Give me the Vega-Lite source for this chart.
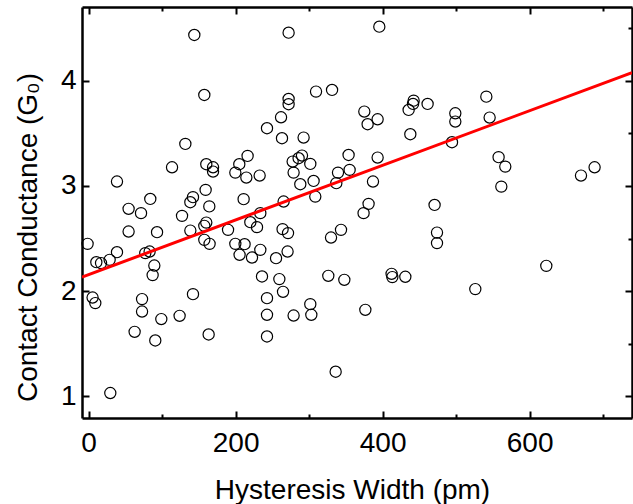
{
  "$schema": "https://vega.github.io/schema/vega-lite/v6.json",
  "width": 550,
  "height": 411,
  "autosize": {"type": "none"},
  "padding": {"left": 82, "top": 7, "right": 1, "bottom": 86},
  "background": "white",
  "config": {
    "view": {"stroke": null},
    "axis": {
      "labelFont": "Liberation Sans",
      "titleFont": "Liberation Sans",
      "labelFontSize": 28,
      "titleFontSize": 28,
      "labelColor": "black",
      "titleColor": "black",
      "titleFontWeight": "normal",
      "domainColor": "black",
      "domainWidth": 2.5,
      "tickColor": "black",
      "tickWidth": 2,
      "grid": false
    }
  },
  "datasets": {
    "pts": [
      {"x": 143.8, "y": 4.435}, {"x": 157.4, "y": 3.865}, {"x": 131.6, "y": 3.400}, {"x": 113.5, "y": 3.178},
      {"x": 160.1, "y": 3.207}, {"x": 169.3, "y": 3.178}, {"x": 169.3, "y": 3.137}, {"x": 38.6, "y": 3.042},
      {"x": 205.0, "y": 3.207}, {"x": 216.3, "y": 3.286}, {"x": 199.6, "y": 3.127}, {"x": 214.6, "y": 3.080},
      {"x": 232.7, "y": 3.099}, {"x": 83.9, "y": 2.877}, {"x": 142.0, "y": 2.894}, {"x": 138.4, "y": 2.846},
      {"x": 159.2, "y": 2.963}, {"x": 210.9, "y": 2.875}, {"x": 242.7, "y": 3.549},
      {"x": 272.1, "y": 4.457}, {"x": 395.5, "y": 4.514}, {"x": 309.4, "y": 3.897}, {"x": 331.2, "y": 3.913},
      {"x": 272.1, "y": 3.827}, {"x": 272.1, "y": 3.777}, {"x": 375.1, "y": 3.707}, {"x": 393.2, "y": 3.634},
      {"x": 379.6, "y": 3.587}, {"x": 442.2, "y": 3.811}, {"x": 441.4, "y": 3.780}, {"x": 435.4, "y": 3.723},
      {"x": 461.2, "y": 3.780}, {"x": 261.8, "y": 3.653}, {"x": 263.1, "y": 3.454}, {"x": 292.5, "y": 3.460},
      {"x": 437.7, "y": 3.492}, {"x": 290.3, "y": 3.289}, {"x": 285.7, "y": 3.264}, {"x": 277.6, "y": 3.232},
      {"x": 301.6, "y": 3.210}, {"x": 278.9, "y": 3.127}, {"x": 288.0, "y": 3.017}, {"x": 306.1, "y": 3.048},
      {"x": 353.7, "y": 3.295}, {"x": 393.2, "y": 3.270}, {"x": 355.1, "y": 3.153}, {"x": 339.3, "y": 3.127},
      {"x": 337.0, "y": 3.027}, {"x": 386.9, "y": 3.042}, {"x": 308.4, "y": 2.899}, {"x": 265.3, "y": 2.852},
      {"x": 380.9, "y": 2.830}, {"x": 470.7, "y": 2.820},
      {"x": 541.1, "y": 3.849}, {"x": 498.9, "y": 3.691}, {"x": 498.9, "y": 3.612}, {"x": 545.6, "y": 3.650},
      {"x": 494.4, "y": 3.416}, {"x": 557.8, "y": 3.274}, {"x": 566.9, "y": 3.184}, {"x": 561.5, "y": 2.994},
      {"x": 669.9, "y": 3.099}, {"x": 688.4, "y": 3.178},
      {"x": 54.4, "y": 2.783}, {"x": 71.3, "y": 2.742}, {"x": 127.1, "y": 2.716}, {"x": 164.2, "y": 2.806},
      {"x": 233.6, "y": 2.742}, {"x": 54.4, "y": 2.567}, {"x": 93.1, "y": 2.561}, {"x": 138.4, "y": 2.576},
      {"x": 160.1, "y": 2.652}, {"x": 157.4, "y": 2.621}, {"x": 189.7, "y": 2.583}, {"x": 220.0, "y": 2.656},
      {"x": 229.1, "y": 2.609}, {"x": -1.4, "y": 2.450}, {"x": 38.6, "y": 2.371}, {"x": 10.5, "y": 2.276},
      {"x": 16.9, "y": 2.267}, {"x": 28.6, "y": 2.298}, {"x": 77.1, "y": 2.362}, {"x": 83.0, "y": 2.377},
      {"x": 89.4, "y": 2.244}, {"x": 87.1, "y": 2.153}, {"x": 157.4, "y": 2.488}, {"x": 164.6, "y": 2.450},
      {"x": 199.6, "y": 2.450}, {"x": 212.2, "y": 2.447}, {"x": 205.4, "y": 2.346}, {"x": 222.3, "y": 2.320},
      {"x": 233.6, "y": 2.393}, {"x": 235.9, "y": 2.140}, {"x": 5.4, "y": 1.940}, {"x": 9.1, "y": 1.887},
      {"x": 72.7, "y": 1.925}, {"x": 72.7, "y": 1.807}, {"x": 142.0, "y": 1.972}, {"x": 98.9, "y": 1.735},
      {"x": 123.8, "y": 1.766}, {"x": 62.6, "y": 1.614}, {"x": 90.7, "y": 1.532}, {"x": 163.3, "y": 1.589},
      {"x": 29.5, "y": 1.032}, {"x": 242.7, "y": 1.934}, {"x": 242.7, "y": 1.776}, {"x": 242.7, "y": 1.570},
      {"x": 374.1, "y": 2.742}, {"x": 263.9, "y": 2.590}, {"x": 271.3, "y": 2.552}, {"x": 329.8, "y": 2.510},
      {"x": 343.4, "y": 2.583}, {"x": 474.0, "y": 2.557}, {"x": 474.0, "y": 2.457}, {"x": 255.0, "y": 2.314},
      {"x": 270.7, "y": 2.377}, {"x": 259.5, "y": 2.115}, {"x": 326.1, "y": 2.146}, {"x": 347.9, "y": 2.108},
      {"x": 412.2, "y": 2.165}, {"x": 413.2, "y": 2.134}, {"x": 430.9, "y": 2.137}, {"x": 264.5, "y": 1.994},
      {"x": 278.9, "y": 1.769}, {"x": 301.6, "y": 1.877}, {"x": 303.0, "y": 1.776}, {"x": 376.5, "y": 1.823},
      {"x": 336.1, "y": 1.235},
      {"x": 526.1, "y": 2.020}, {"x": 622.7, "y": 2.241}
    ],
    "fit": [
      {"x": -9, "y": 2.134},
      {"x": 739.3, "y": 4.077}
    ]
  },
  "layer": [
    {
      "data": {"name": "pts"},
      "mark": {"type": "point", "shape": "circle", "filled": false, "stroke": "black", "strokeWidth": 1.2, "size": 125, "opacity": 1},
      "encoding": {
        "x": {
          "field": "x", "type": "quantitative",
          "scale": {"domain": [-9, 739.3], "nice": false, "zero": false},
          "axis": {
            "orient": "bottom",
            "title": "Hysteresis Width (pm)",
            "values": [0, 100, 200, 300, 400, 500, 600, 700],
            "format": "d",
            "labelExpr": "datum.value % 200 === 0 ? datum.label : ''",
            "tickSize": {"condition": {"test": "datum.value % 200 === 0", "value": -7}, "value": -4},
            "labelPadding": 18,
            "labelFlush": false,
            "labelOverlap": false,
            "titleX": 270,
            "titleY": 80,
            "titleAlign": "center",
            "titleBaseline": "alphabetic"
          }
        },
        "y": {
          "field": "y", "type": "quantitative",
          "scale": {"domain": [0.795, 4.701], "nice": false, "zero": false},
          "axis": {
            "orient": "left",
            "title": "Contact Conductance (G₀)",
            "values": [1, 1.5, 2, 2.5, 3, 3.5, 4, 4.5],
            "format": "d",
            "labelExpr": "datum.value % 1 === 0 ? datum.label : ''",
            "tickSize": {"condition": {"test": "datum.value % 1 === 0", "value": -7}, "value": -4},
            "labelPadding": 13,
            "labelFlush": false,
            "labelOverlap": false,
            "titleX": -46,
            "titleY": 230,
            "titleAngle": -90,
            "titleAlign": "center",
            "titleBaseline": "alphabetic"
          }
        }
      }
    },
    {
      "data": {"name": "fit"},
      "mark": {"type": "line", "color": "#ff0000", "strokeWidth": 3, "clip": true},
      "encoding": {
        "x": {
          "field": "x", "type": "quantitative",
          "scale": {"domain": [-9, 739.3], "nice": false, "zero": false},
          "axis": {
            "orient": "top",
            "title": null,
            "values": [0, 100, 200, 300, 400, 500, 600, 700],
            "labels": false,
            "tickSize": {"condition": {"test": "datum.value % 200 === 0", "value": -7}, "value": -4}
          }
        },
        "y": {
          "field": "y", "type": "quantitative",
          "scale": {"domain": [0.795, 4.701], "nice": false, "zero": false},
          "axis": {
            "orient": "right",
            "title": null,
            "values": [1, 1.5, 2, 2.5, 3, 3.5, 4, 4.5],
            "labels": false,
            "tickSize": {"condition": {"test": "datum.value % 1 === 0", "value": -7}, "value": -4}
          }
        }
      }
    }
  ],
  "resolve": {"axis": {"x": "independent", "y": "independent"}}
}
